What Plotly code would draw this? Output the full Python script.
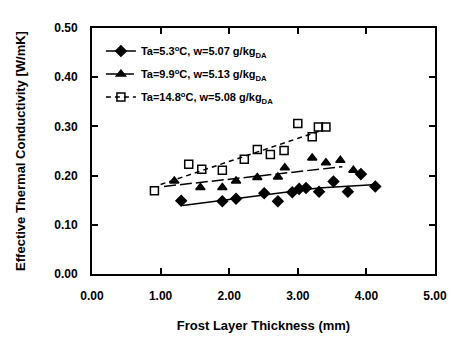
import plotly.graph_objects as go

# Series 1: Ta=5.3°C (diamonds)
x_dia = [1.30, 1.90, 2.10, 2.51, 2.71, 2.92, 3.02, 3.12, 3.31, 3.52, 3.73, 3.92, 4.13]
y_dia = [0.149, 0.148, 0.153, 0.164, 0.148, 0.166, 0.173, 0.175, 0.167, 0.188, 0.167, 0.203, 0.178]
fit_x_dia = [1.32, 2.0, 3.3, 4.15]
fit_y_dia = [0.139, 0.151, 0.175, 0.182]

# Series 2: Ta=9.9°C (triangles)
x_tri = [1.20, 1.58, 1.90, 2.10, 2.41, 2.71, 2.81, 3.21, 3.41, 3.62, 3.81]
y_tri = [0.189, 0.176, 0.176, 0.189, 0.196, 0.197, 0.216, 0.236, 0.226, 0.231, 0.211]
fit_x_tri = [1.05, 3.65]
fit_y_tri = [0.178, 0.218]

# Series 3: Ta=14.8°C (squares)
x_sq = [0.91, 1.41, 1.60, 1.90, 2.22, 2.41, 2.60, 2.80, 3.00, 3.21, 3.30, 3.41]
y_sq = [0.169, 0.223, 0.213, 0.211, 0.233, 0.253, 0.243, 0.251, 0.306, 0.279, 0.299, 0.299]
fit_x_sq = [1.0, 3.35]
fit_y_sq = [0.182, 0.292]

labels = [
    "Ta=5.3<sup>o</sup>C, w=5.07 g/kg<sub>DA</sub>",
    "Ta=9.9<sup>o</sup>C, w=5.13 g/kg<sub>DA</sub>",
    "Ta=14.8<sup>o</sup>C, w=5.08 g/kg<sub>DA</sub>",
]

x_ticks = [0, 1, 2, 3, 4, 5]
y_ticks = [0.0, 0.1, 0.2, 0.3, 0.4, 0.5]

FONT = "Liberation Sans"
fig = go.Figure()

series = [
    (x_dia, y_dia, fit_x_dia, fit_y_dia, "diamond", 8, "solid", labels[0]),
    (x_tri, y_tri, fit_x_tri, fit_y_tri, "triangle-up", 8, "12px,4px", labels[1]),
    (x_sq, y_sq, fit_x_sq, fit_y_sq, "square-open", 8, "5px,4px", labels[2]),
]
for i, (xs, ys, fx, fy, sym, msize, dash, lab) in enumerate(series):
    fig.add_trace(go.Scatter(x=fx, y=fy, mode="lines", line=dict(color="black", width=1.5, dash=dash),
                             showlegend=False, hoverinfo="skip"))
    fig.add_trace(go.Scatter(x=xs, y=ys, mode="markers",
                             marker=dict(symbol=sym, size=msize, color="black",
                                         line=dict(color="black", width=1.5)),
                             showlegend=False))
    fig.add_trace(go.Scatter(x=[None], y=[None], mode="lines+markers", name=lab,
                             legendgroup=f"g{i}",
                             line=dict(color="black", width=1.5, dash=dash),
                             marker=dict(symbol=sym, size=msize, color="black",
                                         line=dict(color="black", width=1.5))))

axis_common = dict(
    showline=True, linecolor="black", linewidth=2, mirror="ticks",
    ticks="inside", ticklen=6, tickwidth=2, tickcolor="black",
    showgrid=False, zeroline=False,
    tickfont=dict(family=FONT, size=12, color="black", weight="bold"),
    tickformat=".2f",
)

fig.update_layout(
    width=459, height=343,
    margin=dict(l=92, r=22, t=28, b=65),
    paper_bgcolor="white", plot_bgcolor="white",
    showlegend=True,
    legend=dict(x=0.026, y=0.965, xanchor="left", yanchor="top",
                bgcolor="rgba(0,0,0,0)", tracegroupgap=4,
                font=dict(family=FONT, size=11, color="black", weight="bold")),
    xaxis=dict(range=[0, 5], tickvals=x_ticks, ticklabelstandoff=10,
               title=dict(text="Frost Layer Thickness (mm)", standoff=18,
                          font=dict(family=FONT, size=13, color="black", weight="bold")),
               **axis_common),
    yaxis=dict(range=[0, 0.5], tickvals=y_ticks, ticklabelstandoff=10,
               title=dict(text="Effective Thermal Conductivity [W/mK]", standoff=26,
                          font=dict(family=FONT, size=13, color="black", weight="bold")),
               **axis_common),
)

fig.write_html("out.html")
